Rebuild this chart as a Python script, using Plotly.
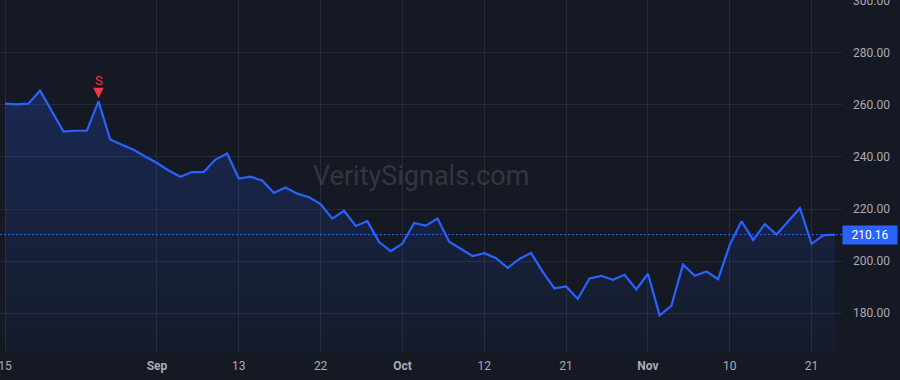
import plotly.graph_objects as go

# ---- data ----
prices = [
    260.5, 260.2, 260.5, 265.5, 257.7, 249.8, 250.1, 250.1, 261.4, 246.7,
    244.7, 242.8, 240.2, 237.7, 234.8, 232.4, 234.2, 234.2, 239.0, 241.3,
    231.7, 232.4, 231.0, 226.2, 228.3, 225.9, 224.5, 221.9, 216.3, 219.3,
    213.5, 215.3, 207.3, 203.8, 206.7, 214.6, 213.6, 216.3, 207.4, 204.5,
    201.9, 203.0, 201.1, 197.4, 200.8, 203.1, 195.8, 189.5, 190.2, 185.4,
    193.3, 194.3, 192.8, 194.7, 189.1, 195.1, 179.1, 182.7, 198.6, 194.3,
    196.0, 193.0, 206.2, 215.3, 208.1, 214.2, 210.2, 215.3, 220.3, 206.6,
    209.9, 210.16,
]
tick_index = [0, 13, 20, 27, 34, 41, 48, 55, 62, 69]
tick_labels = ["15", "<b>Sep</b>", "13", "22", "<b>Oct</b>", "12", "21",
               "<b>Nov</b>", "10", "21"]
y_ticks = [180, 200, 220, 240, 260, 280, 300]
signal_index = 8
signal_label = "S"
last_price = prices[-1]
watermark = "VeritySignals.com"

x = list(range(len(prices)))

BG = "#151924"
GRID = "#262b38"
BLUE = "#2962ff"
TXT = "#a9acb5"
FONT = "Roboto"

fig = go.Figure()
fig.add_trace(go.Scatter(
    x=x, y=prices, mode="lines",
    line=dict(color=BLUE, width=2.2),
    fill="tozeroy",
    fillgradient=dict(
        type="vertical", start=165, stop=266,
        colorscale=[[0, "rgba(41,98,255,0.03)"], [1, "rgba(41,98,255,0.22)"]],
    ),
    hoverinfo="skip", showlegend=False,
))

fig.update_layout(
    width=900, height=380,
    margin=dict(l=0, r=58, t=0, b=28, autoexpand=False),
    paper_bgcolor=BG, plot_bgcolor=BG,
    font=dict(family=FONT, size=12, color=TXT),
    xaxis=dict(
        range=[-0.428, 71.6], tickmode="array",
        tickvals=tick_index, ticktext=tick_labels,
        showgrid=True, gridcolor=GRID, gridwidth=1,
        zeroline=False, showline=False, ticks="", automargin=False,
        ticklabeloverflow="allow", ticklabelstandoff=5,
        tickfont=dict(family=FONT, size=12, color=TXT),
    ),
    yaxis=dict(
        range=[165.0, 300.38], side="right", tickmode="array",
        tickvals=y_ticks, tickformat=".2f",
        showgrid=True, gridcolor=GRID, gridwidth=1,
        zeroline=False, showline=False, ticks="", automargin=False,
        ticklabelstandoff=10, ticklabeloverflow="allow",
        tickfont=dict(family=FONT, size=12, color=TXT),
    ),
    shapes=[dict(
        type="line", xref="paper", x0=0, x1=1, yref="y",
        y0=last_price, y1=last_price,
        line=dict(color=BLUE, width=1, dash="2px,2px"),
    )],
    annotations=[
        dict(
            xref="paper", yref="paper", x=0.5, y=0.5,
            text=watermark, showarrow=False,
            font=dict(family=FONT, size=27, color="rgba(255,255,255,0.14)"),
        ),
        dict(
            x=signal_index, y=prices[signal_index], xref="x", yref="y",
            text=signal_label, showarrow=True, arrowhead=2, arrowsize=0.7,
            arrowwidth=3, arrowcolor="#f23645", standoff=3,
            ax=0, ay=-21,
            font=dict(family=FONT, size=13, color="#f23645"),
        ),
        dict(
            xref="paper", yref="y", x=1, y=last_price,
            xanchor="left", yanchor="middle", xshift=0,
            text=f"{last_price:.2f}", showarrow=False,
            bgcolor=BLUE, borderpad=2, width=50,
            font=dict(family=FONT, size=12, color="#ffffff"),
        ),
    ],
)

fig.write_html("out.html")
